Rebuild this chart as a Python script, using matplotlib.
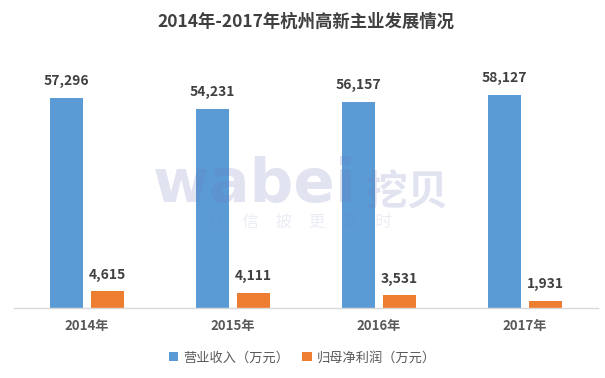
import numpy as np
import matplotlib.pyplot as plt

plt.rcParams['font.family'] = ['Noto Sans CJK SC', 'DejaVu Sans']

years = ['2014年', '2015年', '2016年', '2017年']
revenue = [57296, 54231, 56157, 58127]
profit = [4615, 4111, 3531, 1931]
names = ['营业收入（万元）', '归母净利润（万元）']

blue = '#5B9BD5'
orange = '#ED7D31'

fig = plt.figure(figsize=(6.05, 3.78), dpi=100)
ax = fig.add_axes([0.023, 0.185, 0.965, 0.68])

x = np.arange(len(years))
w = 0.226
gap = 0.055
b1 = ax.bar(x - (w + gap) / 2, revenue, w, color=blue, label=names[0], zorder=2)
b2 = ax.bar(x + (w + gap) / 2, profit, w, color=orange, label=names[1], zorder=2)

# etiquetas de valores
for bars, vals in [(b1, revenue), (b2, profit)]:
    for r, v in zip(bars, vals):
        ax.text(r.get_x() + r.get_width() / 2, v + 2600, f'{v:,}',
                ha='center', va='bottom', fontsize=10, fontweight='bold',
                color='#404040', zorder=3)

ax.set_xlim(-0.5, len(years) - 0.5)
ax.set_ylim(0, 70000)
ax.set_yticks([])
ax.set_xticks(x)
ax.set_xticklabels(years, fontsize=9.5, fontweight='bold', color='#595959')
ax.tick_params(axis='x', length=0, pad=8)
for s in ['top', 'right', 'left']:
    ax.spines[s].set_visible(False)
ax.spines['bottom'].set_color('#D9D9D9')
ax.spines['bottom'].set_linewidth(1)

fig.text(0.506, 0.942, '2014年-2017年杭州高新主业发展情况', ha='center', va='center',
         fontsize=12.5, fontweight='bold', color='#404040')

# marca de agua
fig.text(0.253, 0.465, 'wabei', ha='left', va='baseline', fontsize=44,
         fontweight='bold', family=['DejaVu Sans'], color='#6A75B8', alpha=0.2, zorder=5)
fig.text(0.605, 0.49, '挖贝', ha='left', va='center', fontsize=30,
         fontweight='bold', color='#6A75B8', alpha=0.2, zorder=5)
fig.text(0.497, 0.412, '让　信　披　更　及　时', ha='center', va='center', fontsize=12,
         color='#6A75B8', alpha=0.13, zorder=5)

fig.legend(loc='center', bbox_to_anchor=(0.5, 0.053), ncol=2, frameon=False,
           fontsize=9.5, handlelength=0.7, handleheight=0.7, handletextpad=0.4,
           columnspacing=1.0, labelcolor='#595959')

fig.savefig('out.png', dpi=100)
